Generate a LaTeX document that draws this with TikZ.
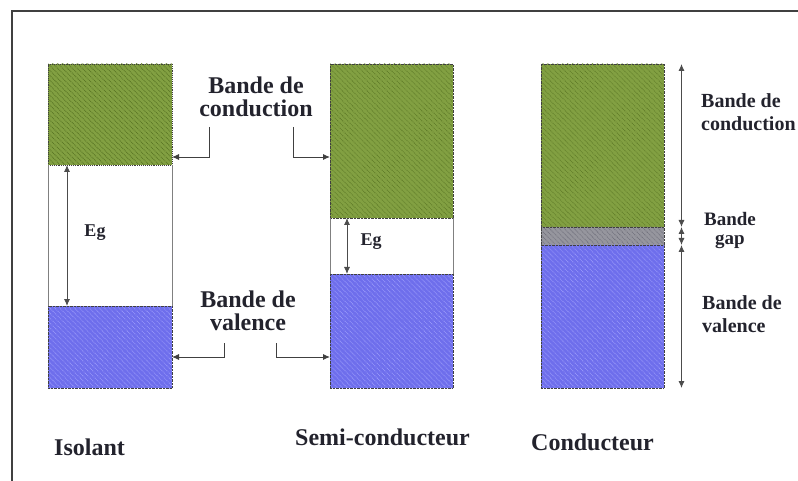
\documentclass[tikz,border=0pt]{standalone}
\usepackage{fontspec}
\setmainfont{Liberation Serif}
\usetikzlibrary{patterns,patterns.meta,calc,arrows.meta}
\definecolor{greenbase}{RGB}{130,160,66}
\definecolor{greenhatch}{RGB}{92,120,38}
\definecolor{bluebase}{RGB}{110,110,236}
\definecolor{bluehatch}{RGB}{160,160,252}
\definecolor{graybase}{RGB}{150,150,158}
\definecolor{grayhatch}{RGB}{105,105,118}
\definecolor{ink}{RGB}{35,35,45}
\begin{document}
\begin{tikzpicture}[x=1pt,y=-1pt,
  band/.style={inner sep=0pt, outer sep=0pt, minimum width=123pt},
  hatch/.style={pattern={Lines[angle=-45,distance=3.5pt,line width=0.9pt]}, pattern color=#1},
  gband/.style={band, draw=black!75, densely dotted, preaction={fill=greenbase}, hatch=greenhatch},
  bband/.style={band, draw=black!75, densely dotted, preaction={fill=bluebase}, hatch=bluehatch},
  yband/.style={band, draw=black!75, densely dotted, preaction={fill=graybase}, hatch=grayhatch},
  wband/.style={band},
  side/.style={draw=black!50, line width=0.9pt},
  arr/.style={-{Latex[length=7pt,width=6pt]}, draw=black!75, line width=0.9pt},
  darr/.style={{Latex[length=7pt,width=6pt]}-{Latex[length=7pt,width=6pt]}, draw=black!70, line width=0.9pt},
  lab/.style={font=\bfseries\fontsize{24}{23}\selectfont, text=ink, align=center, inner sep=0pt},
  rlab/.style={font=\bfseries\fontsize{20}{23}\selectfont, text=ink, align=left, inner sep=0pt},
  eg/.style={font=\bfseries\fontsize{18}{20}\selectfont, text=ink, inner sep=0pt},
  frame/.style={draw=black!75, line width=1.6pt}
]
\useasboundingbox (0,0) rectangle (798,481);
\draw[frame] (12,11) rectangle (820,500);

% Isolant
\node[gband, minimum width=124pt, minimum height=101pt] (ig) at (110,114.5) {};
\node[wband, minimum width=124pt, minimum height=141pt] (iw) at (110,235.5) {};
\node[bband, minimum width=124pt, minimum height=82pt] (ib) at (110,347) {};
\draw[side] (ig.south west) -- (ib.north west);
\draw[side] (ig.south east) -- (ib.north east);

% Semi-conducteur
\node[gband, minimum height=154pt] (sg) at (391.5,141) {};
\node[wband, minimum height=56pt] (sw) at (391.5,246) {};
\node[bband, minimum height=114pt] (sb) at (391.5,331) {};
\draw[side] (sg.south west) -- (sb.north west);
\draw[side] (sg.south east) -- (sb.north east);

% Conducteur
\node[gband, minimum height=163pt] (cg) at (602.5,145.5) {};
\node[yband, minimum height=18pt] (cy) at (602.5,236) {};
\node[bband, minimum height=143pt] (cb) at (602.5,316.5) {};

% Eg arrows
\draw[darr] ($(iw.north west)+(19,0)$) -- ($(iw.south west)+(19,0)$);
\node[eg] (eg1) at (95,233) {Eg};
\draw[darr] ($(sw.north west)+(17,0)$) -- ($(sw.south west)+(17,0)$);
\node[eg] (eg2) at (371,242) {Eg};

% centre labels
\node[lab] (lc) at (256,97) {Bande de\\conduction};
\coordinate (c1) at (209,127);
\coordinate (c2) at (293,127);
\draw[arr] (c1) |- ($(ig.south east)+(0,-8)$);
\draw[arr] (c2) |- ($(sg.north west)+(0,93)$);

\node[lab] (lv) at (248,311) {Bande de\\valence};
\coordinate (v1) at (224,343);
\coordinate (v2) at (276,343);
\draw[arr] (v1) |- ($(ib.north east)+(0,51)$);
\draw[arr] (v2) |- ($(sb.north west)+(0,83)$);

% right arrows
\draw[darr] ($(cg.north east)+(17.5,0)$) -- ($(cg.south east)+(17.5,0)$);
\draw[darr] ($(cy.north east)+(17.5,0)$) -- ($(cy.south east)+(17.5,0)$);
\draw[darr] ($(cb.north east)+(17.5,0)$) -- ($(cb.south east)+(17.5,0)$);

\node[rlab, anchor=west] (rc) at (701,112) {Bande de\\conduction};
\node[rlab, align=center, font=\bfseries\fontsize{19}{19}\selectfont] (rg) at (730,231) {Bande\\gap};
\node[rlab, anchor=west] (rv) at (702,314) {Bande de\\valence};

% bottom labels
\node[lab, anchor=base west] (t1) at (54,455) {Isolant};
\node[lab, anchor=base west] (t2) at (295,445) {Semi-conducteur};
\node[lab, anchor=base west] (t3) at (531,450) {Conducteur};
\end{tikzpicture}
\end{document}
